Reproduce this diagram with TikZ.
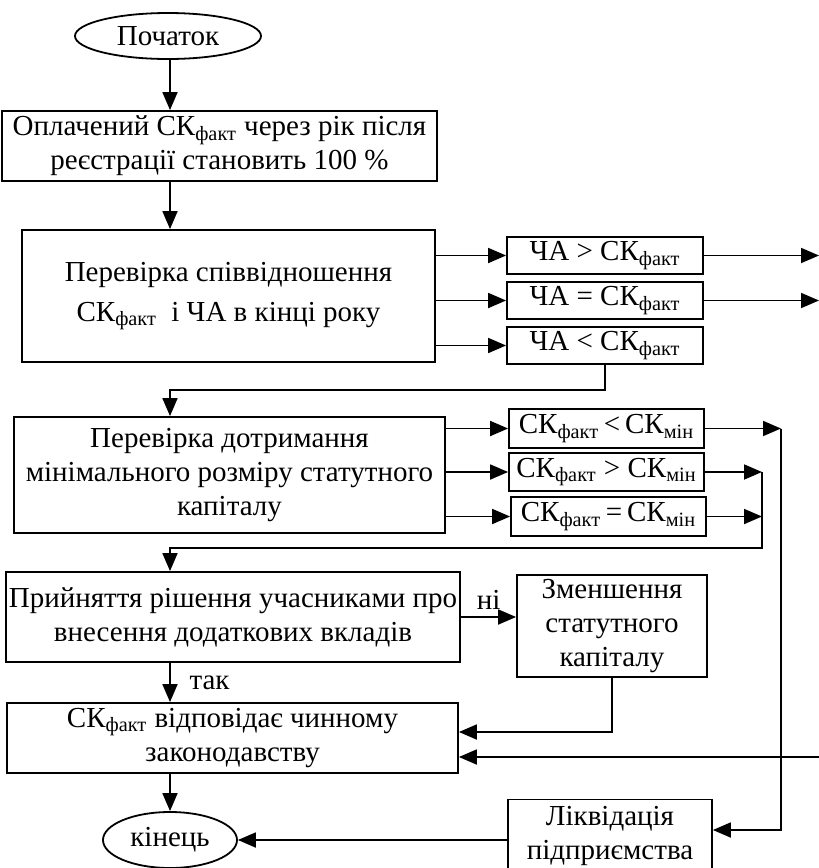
\documentclass[tikz,border=0pt]{standalone}
\usepackage{fontspec}
\setmainfont{Liberation Serif}
\usetikzlibrary{shapes.geometric,arrows.meta}
\newcommand{\skf}{СК\textsubscript{факт}}
\newcommand{\skm}{СК\textsubscript{мін}}
\begin{document}
\begin{tikzpicture}[x=0.5pt,y=-0.5pt,line width=0.9pt,
  box/.style={draw,rectangle,inner sep=1.5pt,align=center,font=\fontsize{14.5}{17}\selectfont},
  term/.style={draw,ellipse,inner sep=0pt,font=\fontsize{14.5}{17}\selectfont},
  arr/.style={-{Triangle[length=9pt,width=7.5pt]}}]
\useasboundingbox (0,0) rectangle (819,868);
\coordinate (col) at (170,0);
\node[term,minimum width=93pt,minimum height=23pt] (start) at (168,36) {Початок};
\node[box,minimum width=217.5pt,minimum height=35pt] (pay) at (219.5,146) {Оплачений \skf{} через рік після\\реєстрації становить 100~\%};
\node[box,minimum width=206.5pt,minimum height=66pt] (check) at (228.5,296) {Перевірка співвідношення\\[3pt]\skf{}\ \ і ЧА в кінці року};
\node[box,minimum width=98pt,minimum height=18.5pt] (cha1) at (605,255.5) {ЧА > \skf};
\node[box,minimum width=98pt,minimum height=18.5pt] (cha2) at (605,300.5) {ЧА = \skf};
\node[box,minimum width=98pt,minimum height=18.5pt] (cha3) at (605,345.5) {ЧА < \skf};
\node[box,minimum width=215.5pt,minimum height=58pt] (minsize) at (229.5,475) {Перевірка дотримання\\мінімального розміру статутного\\капіталу};
\node[box,minimum width=97.5pt,minimum height=19.5pt] (sk1) at (606.5,428.5) {\skf\,<\,\skm};
\node[box,minimum width=97.5pt,minimum height=19pt] (sk2) at (606.5,472) {\skf{} > \skm};
\node[box,minimum width=97.5pt,minimum height=19.5pt] (sk3) at (608.5,516.5) {\skf\,=\,\skm};
\node[box,minimum width=227pt,minimum height=45pt] (decide) at (233,617) {Прийняття рішення учасниками про\\внесення додаткових вкладів};
\node[box,minimum width=95pt,minimum height=51pt] (reduce) at (612,626) {Зменшення\\статутного\\капіталу};
\node[box,minimum width=225.5pt,minimum height=35pt] (legal) at (232.5,738) {\skf{} відповідає чинному\\законодавству};
\node[term,minimum width=67pt,minimum height=28pt] (fin) at (170,840) {кінець};
\node[box,minimum width=102pt,minimum height=36.5pt] (liq) at (610,836) {Ліквідація\\підприємства};
\coordinate (out1) at (819,255.5);
\coordinate (out2) at (819,300.5);
\coordinate (in1) at (819,757);
\coordinate (bend) at (170,390);
\coordinate (busM) at (762,548);
\coordinate (busR) at (781,428.5);
\draw[arr] (start.south -| col) -- (pay.north -| col);
\draw[arr] (pay.south -| col) -- (check.north -| col);
\foreach \n in {cha1,cha2,cha3}
  \draw[arr] (check.east |- \n) -- (\n.west);
\draw[arr] (cha1.east) -- (out1);
\draw[arr] (cha2.east) -- (out2);
\draw[arr] (cha3.south) |- (bend) -- (minsize.north -| bend);
\foreach \n in {sk1,sk2,sk3}
  \draw[arr] (minsize.east |- \n) -- (\n.west);
\draw[arr] (sk1.east) -- (busR);
\draw[arr] (busR) |- ([yshift=3pt]liq.east);
\draw[arr] (sk2.east) -- (sk2.east -| busM);
\draw[arr] (sk3.east) -- (sk3.east -| busM);
\draw[arr] (sk2.east -| busM) -- (busM) -| (decide.north -| col);
\draw[arr] (decide.east) -- node (no) [above,font=\fontsize{14.5}{17}\selectfont] {ні} (decide.east -| reduce.west);
\draw[arr] (decide.south -| col) -- node (yes) [right=6pt,font=\fontsize{14.5}{17}\selectfont] {так} (legal.north -| col);
\draw[arr] (reduce.south) |- ([yshift=3pt]legal.east);
\draw[arr] (in1) -- (in1 -| legal.east);
\draw[arr] (legal.south -| col) -- (fin.north);
\draw[arr] (fin.east -| liq.west) -- (fin.east);
\end{tikzpicture}
\end{document}
